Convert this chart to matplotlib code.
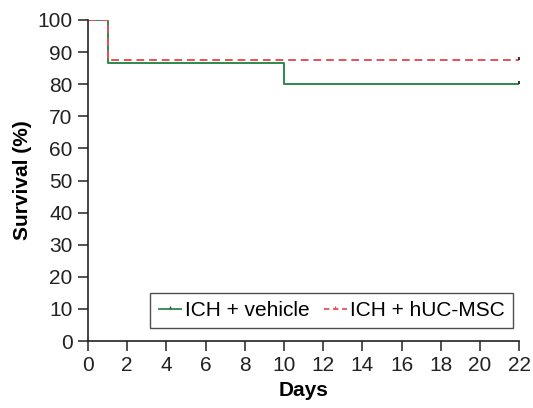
import matplotlib
matplotlib.use("Agg")
import matplotlib.pyplot as plt
from matplotlib.lines import Line2D

plt.rcParams['font.family'] = ['Liberation Sans', 'DejaVu Sans']

days_vehicle = [0, 1, 10, 22]
surv_vehicle = [100, 86.7, 80, 80]
days_msc = [0, 1, 22]
surv_msc = [100, 87.5, 87.5]
labels = ["ICH + vehicle", "ICH + hUC-MSC"]
xticks = list(range(0, 23, 2))
yticks = list(range(0, 101, 10))

green = "#2a8a4a"
red = "#e8505a"
fs = 15
censor = [(0, 0), (0, 1)]  # upward tick

fig = plt.figure(figsize=(5.33, 4.08), dpi=100)
ax = fig.add_axes([0.165, 0.164, 0.809, 0.787])

ax.step(days_vehicle, surv_vehicle, where='post', color=green, lw=1.4,
        marker=censor, markevery=[len(days_vehicle) - 1], markersize=5,
        markeredgewidth=1.3, markeredgecolor='#222222', label=labels[0])
ax.step(days_msc, surv_msc, where='post', color=red, lw=1.4, linestyle=(0, (4, 2.5)),
        marker=censor, markevery=[len(days_msc) - 1], markersize=5,
        markeredgewidth=1.3, markeredgecolor='#222222', label=labels[1])

ax.set_xlim(0, 22)
ax.set_ylim(0, 100)
ax.set_xticks(xticks)
ax.set_yticks(yticks)
ax.tick_params(labelsize=fs, length=7, width=1.2, color='#333333', labelcolor='#222222', pad=4)
for s in ['top', 'right']:
    ax.spines[s].set_visible(False)
for s in ['left', 'bottom']:
    ax.spines[s].set_linewidth(1.2)
    ax.spines[s].set_color('#222222')
ax.set_xlabel("Days", fontsize=fs, fontweight='bold', labelpad=4)
ax.set_ylabel("Survival (%)", fontsize=fs, fontweight='bold', labelpad=4)

handles = [Line2D([0], [0], color=green, lw=1.3, marker=censor, markersize=4, markeredgecolor='#444444'),
           Line2D([0], [0], color=red, lw=1.3, linestyle=(0, (3, 2)), marker=censor, markersize=4, markeredgecolor=red)]
leg = ax.legend(handles, labels, loc='lower right', ncol=2, fontsize=fs, frameon=True,
                fancybox=False, edgecolor='#222222', handlelength=1.1, handletextpad=0.15,
                columnspacing=0.7, borderpad=0.4, borderaxespad=0.3, bbox_to_anchor=(1.0, 0.02))
leg.get_frame().set_linewidth(1.0)

fig.savefig("out.png", dpi=100)
